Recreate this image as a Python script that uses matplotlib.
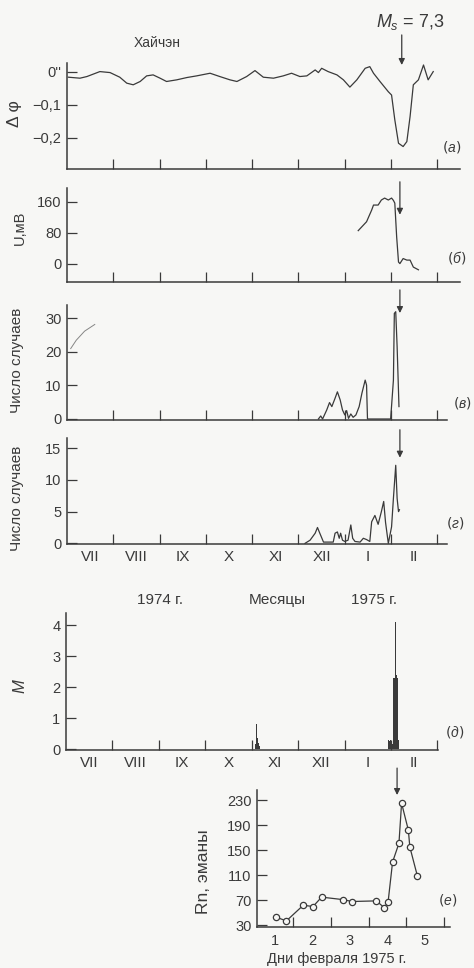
import matplotlib.pyplot as plt

W, H = 474, 968

# time axis of panels a-d: months since 1 July 1974
tilt_t = [0.03, 0.28, 0.43, 0.71, 0.93, 1.14, 1.29, 1.43, 1.58, 1.72, 1.86, 2.01, 2.15,
          2.37, 2.59, 2.80, 3.09, 3.30, 3.52, 3.67, 3.88, 4.06, 4.24, 4.46, 4.67, 4.85,
          5.03, 5.18, 5.36, 5.43, 5.50, 5.64, 5.83, 5.97, 6.11, 6.26, 6.44, 6.54, 6.62,
          6.76, 6.94, 7.01, 7.08, 7.16, 7.26, 7.34, 7.41, 7.48, 7.59, 7.70, 7.80, 7.91]
tilt_v = [-0.016, -0.019, -0.014, 0.001, -0.002, -0.016, -0.034, -0.039, -0.029, -0.012,
          -0.009, -0.019, -0.029, -0.024, -0.017, -0.012, -0.004, -0.014, -0.024, -0.029,
          -0.014, 0.004, -0.016, -0.019, -0.012, -0.004, -0.014, -0.012, 0.006, -0.002,
          0.011, 0.001, -0.009, -0.024, -0.046, -0.024, 0.011, 0.016, -0.004, -0.029,
          -0.060, -0.070, -0.145, -0.216, -0.226, -0.211, -0.135, -0.039, -0.024, 0.021,
          -0.024, 0.001]

volt_t = [6.29, 6.47, 6.58, 6.62, 6.72, 6.79, 6.86, 6.94, 7.01, 7.05, 7.08, 7.12, 7.16,
          7.19, 7.26, 7.34, 7.41, 7.48, 7.59]
volt_v = [85, 108, 138, 151, 151, 164, 169, 164, 169, 163, 156, 69, 4, 0, 13, 9, 9, -9, -16]

shocks_t = [5.43, 5.48, 5.52, 5.61, 5.67, 5.72, 5.79, 5.84, 5.90, 5.95, 6.00, 6.04, 6.08,
            6.13, 6.18, 6.24, 6.31, 6.37, 6.44, 6.47, 6.49, 6.99, 7.05, 7.07, 7.10, 7.13,
            7.17]
shocks_n = [0, 0.9, 0, 2.7, 4.9, 3.7, 6.2, 8.1, 5.7, 2.7, 1.2, 2.5, 0.2, 1.5, 0.5, 1.2,
            3.7, 7.7, 11.6, 10.1, 0, 0, 11.6, 31.5, 32, 21.6, 3.7]
stray_t = [0.08, 0.2, 0.38, 0.6]
stray_n = [21, 23.5, 26.2, 28.2]

events_t = [5.14, 5.25, 5.36, 5.41, 5.46, 5.54, 5.75, 5.79, 5.84, 5.88, 5.91, 5.95, 6.00,
            6.07, 6.13, 6.17, 6.22, 6.33, 6.40, 6.47, 6.54, 6.58, 6.65, 6.72, 6.79, 6.84,
            6.88, 6.94, 7.01, 7.05, 7.10, 7.13, 7.16, 7.18]
events_n = [0, 0.5, 1.6, 2.5, 1.6, 0.2, 0.2, 1.6, 1.8, 0.8, 1.6, 0.5, 0.3, 0.5, 2.9, 0.8,
            0.3, 0.2, 0.8, 0.6, 0.3, 3.4, 4.4, 3.0, 5.0, 6.6, 3.3, 0, 2.6, 7.1, 12.3, 7.1,
            5.0, 5.3]

quake_t = [4.09, 4.11, 4.13, 4.15, 4.17, 6.94, 6.96, 6.98, 7.00, 7.02, 7.04, 7.06, 7.07,
           7.08, 7.09, 7.10, 7.11, 7.12, 7.13, 7.14, 7.15, 7.16]
quake_m = [0.15, 0.8, 0.35, 0.2, 0.1, 0.3, 0.25, 0.3, 0.2, 0.25, 0.15, 2.3, 2.2, 2.3, 2.7,
           4.1, 2.4, 2.3, 2.2, 2.3, 2.25, 0.3]

radon_day = [1.04, 1.31, 1.76, 2.02, 2.25, 2.82, 3.06, 3.71, 3.92, 4.02, 4.14, 4.31, 4.38,
             4.56, 4.60, 4.80]
radon_v = [43, 37, 62, 60, 75, 71, 68, 69, 58, 67, 131, 161, 225, 182, 155, 109]

months = ["VII", "VIII", "IX", "X", "XI", "XII", "I", "II"]
quake_time = 7.19

ink = "#3a3a3a"
paper = "#f7f7f5"
plt.rcParams["font.family"] = ["Liberation Sans", "DejaVu Sans"]
plt.rcParams["text.color"] = ink
plt.rcParams["axes.edgecolor"] = ink
plt.rcParams["xtick.color"] = ink
plt.rcParams["ytick.color"] = ink
plt.rcParams["mathtext.fontset"] = "custom"
plt.rcParams["mathtext.it"] = "Liberation Sans:italic"

fig = plt.figure(figsize=(W / 100, H / 100), dpi=100)
fig.patch.set_facecolor(paper)


def panel(left, top, right, bottom):
    ax = fig.add_axes([left / W, 1 - bottom / H, (right - left) / W, (bottom - top) / H])
    ax.set_facecolor("none")
    for side in ("top", "right"):
        ax.spines[side].set_visible(False)
    for side in ("left", "bottom"):
        ax.spines[side].set_linewidth(1.1)
    ax.tick_params(direction="in", length=7, width=0.9, labelsize=10.5, pad=4)
    return ax


def month_axis(ax, right, labels=False):
    ax.set_xlim(0, (right - 67) / 46.3)
    if labels:
        ax.set_xticks([k + 0.5 for k in range(len(months))], labels=months)
        ax.tick_params(axis="x", which="major", length=0, labelsize=11, pad=4)
        ax.set_xticks(range(1, 9), minor=True)
        ax.tick_params(axis="x", which="minor", direction="in", length=7, width=0.9)
    else:
        ax.set_xticks(range(1, 9), labels=[])


def arrow(ax, x, y0, y1):
    ax.annotate("", xy=(x, y1), xytext=(x, y0), annotation_clip=False,
                arrowprops=dict(arrowstyle="-|>", color=ink, lw=0.9,
                                mutation_scale=9, shrinkA=0, shrinkB=0))


def ftext(x, y, s, **kw):
    fig.text(x / W, 1 - y / H, s, ha="center", va="center", **kw)


# (a) tilt
ax = panel(67, 63, 460, 169)
month_axis(ax, 460)
ax.plot(tilt_t, tilt_v, color=ink, lw=0.9)
ax.set_ylim(-0.294, 0.027)
ax.set_yticks([0, -0.1, -0.2], labels=["0''", "\u22120,1", "\u22120,2"])
arrow(ax, 7.23, 0.112, 0.021)
ftext(410, 22, "$M_s$ = 7,3", fontsize=13)
ftext(157, 43, "Хайчэн", fontsize=10)
ftext(15, 114, "Δ φ", fontsize=12.5, rotation=90)
ftext(452, 147, "$(a)$", fontsize=10)

# (б) telluric voltage
ax = panel(67, 188, 460, 282)
month_axis(ax, 460)
ax.plot(volt_t, volt_v, color=ink, lw=0.9)
ax.set_ylim(-47.5, 195)
ax.set_yticks([0, 80, 160])
arrow(ax, quake_time, 211, 126)
ftext(20, 228, "U,мВ", fontsize=10.5, rotation=90)
ftext(457, 258, "$(б)$", fontsize=10)

# (в) number of cases
ax = panel(67, 305, 447, 420)
month_axis(ax, 447)
ax.plot(shocks_t, shocks_n, color=ink, lw=0.9)
ax.plot(stray_t, stray_n, color=ink, lw=0.7, alpha=0.6)
ax.set_ylim(-0.3, 34)
ax.set_yticks([0, 10, 20, 30])
arrow(ax, quake_time, 38.5, 31.6)
ftext(17, 360, "Число случаев", fontsize=11, rotation=90)
ftext(462, 403, "$(в)$", fontsize=10)

# (г) number of cases
ax = panel(67, 438, 447, 544)
month_axis(ax, 447, labels=True)
ax.plot(events_t, events_n, color=ink, lw=0.9)
ax.set_ylim(-0.1, 16.6)
ax.set_yticks([0, 5, 10, 15])
arrow(ax, quake_time, 17.9, 13.5)
ftext(17, 498, "Число случаев", fontsize=11, rotation=90)
ftext(455, 523, "$(г)$", fontsize=10)

ftext(160, 600, "1974 г.", fontsize=11)
ftext(277, 600, "Месяцы", fontsize=11)
ftext(374, 600, "1975 г.", fontsize=11)

# (д) magnitudes
ax = panel(66, 613, 438, 750)
month_axis(ax, 438, labels=True)
ax.bar(quake_t, quake_m, width=0.022, color=ink, lw=0)
ax.set_ylim(-0.03, 4.39)
ax.set_yticks([0, 1, 2, 3, 4])
ftext(20, 686, "$M$", fontsize=12, rotation=90)
ftext(455, 732, "$(д)$", fontsize=10)

# (е) radon
ax = panel(257, 790, 450, 927)
ax.plot(radon_day, radon_v, color=ink, lw=0.9, marker="o", ms=4.5,
        mfc=paper, mec=ink, mew=0.9)
ax.set_xlim(0.528, 5.67)
ax.set_xticks([1, 2, 3, 4, 5])
ax.tick_params(axis="x", which="major", length=0, pad=5)
ax.set_xticks([1.5, 2.5, 3.5, 4.5, 5.5], minor=True)
ax.tick_params(axis="x", which="minor", direction="in", length=7, width=0.9)
ax.set_ylim(27.3, 246)
ax.set_yticks([30, 70, 110, 150, 190, 230])
arrow(ax, 4.26, 281, 238)
ftext(203, 872, "Rn, эманы", fontsize=12.5, rotation=90)
ftext(337, 959, "Дни февраля 1975 г.", fontsize=10.5)
ftext(448, 900, "$(е)$", fontsize=10)

fig.savefig("out.png", dpi=100, facecolor=paper)
